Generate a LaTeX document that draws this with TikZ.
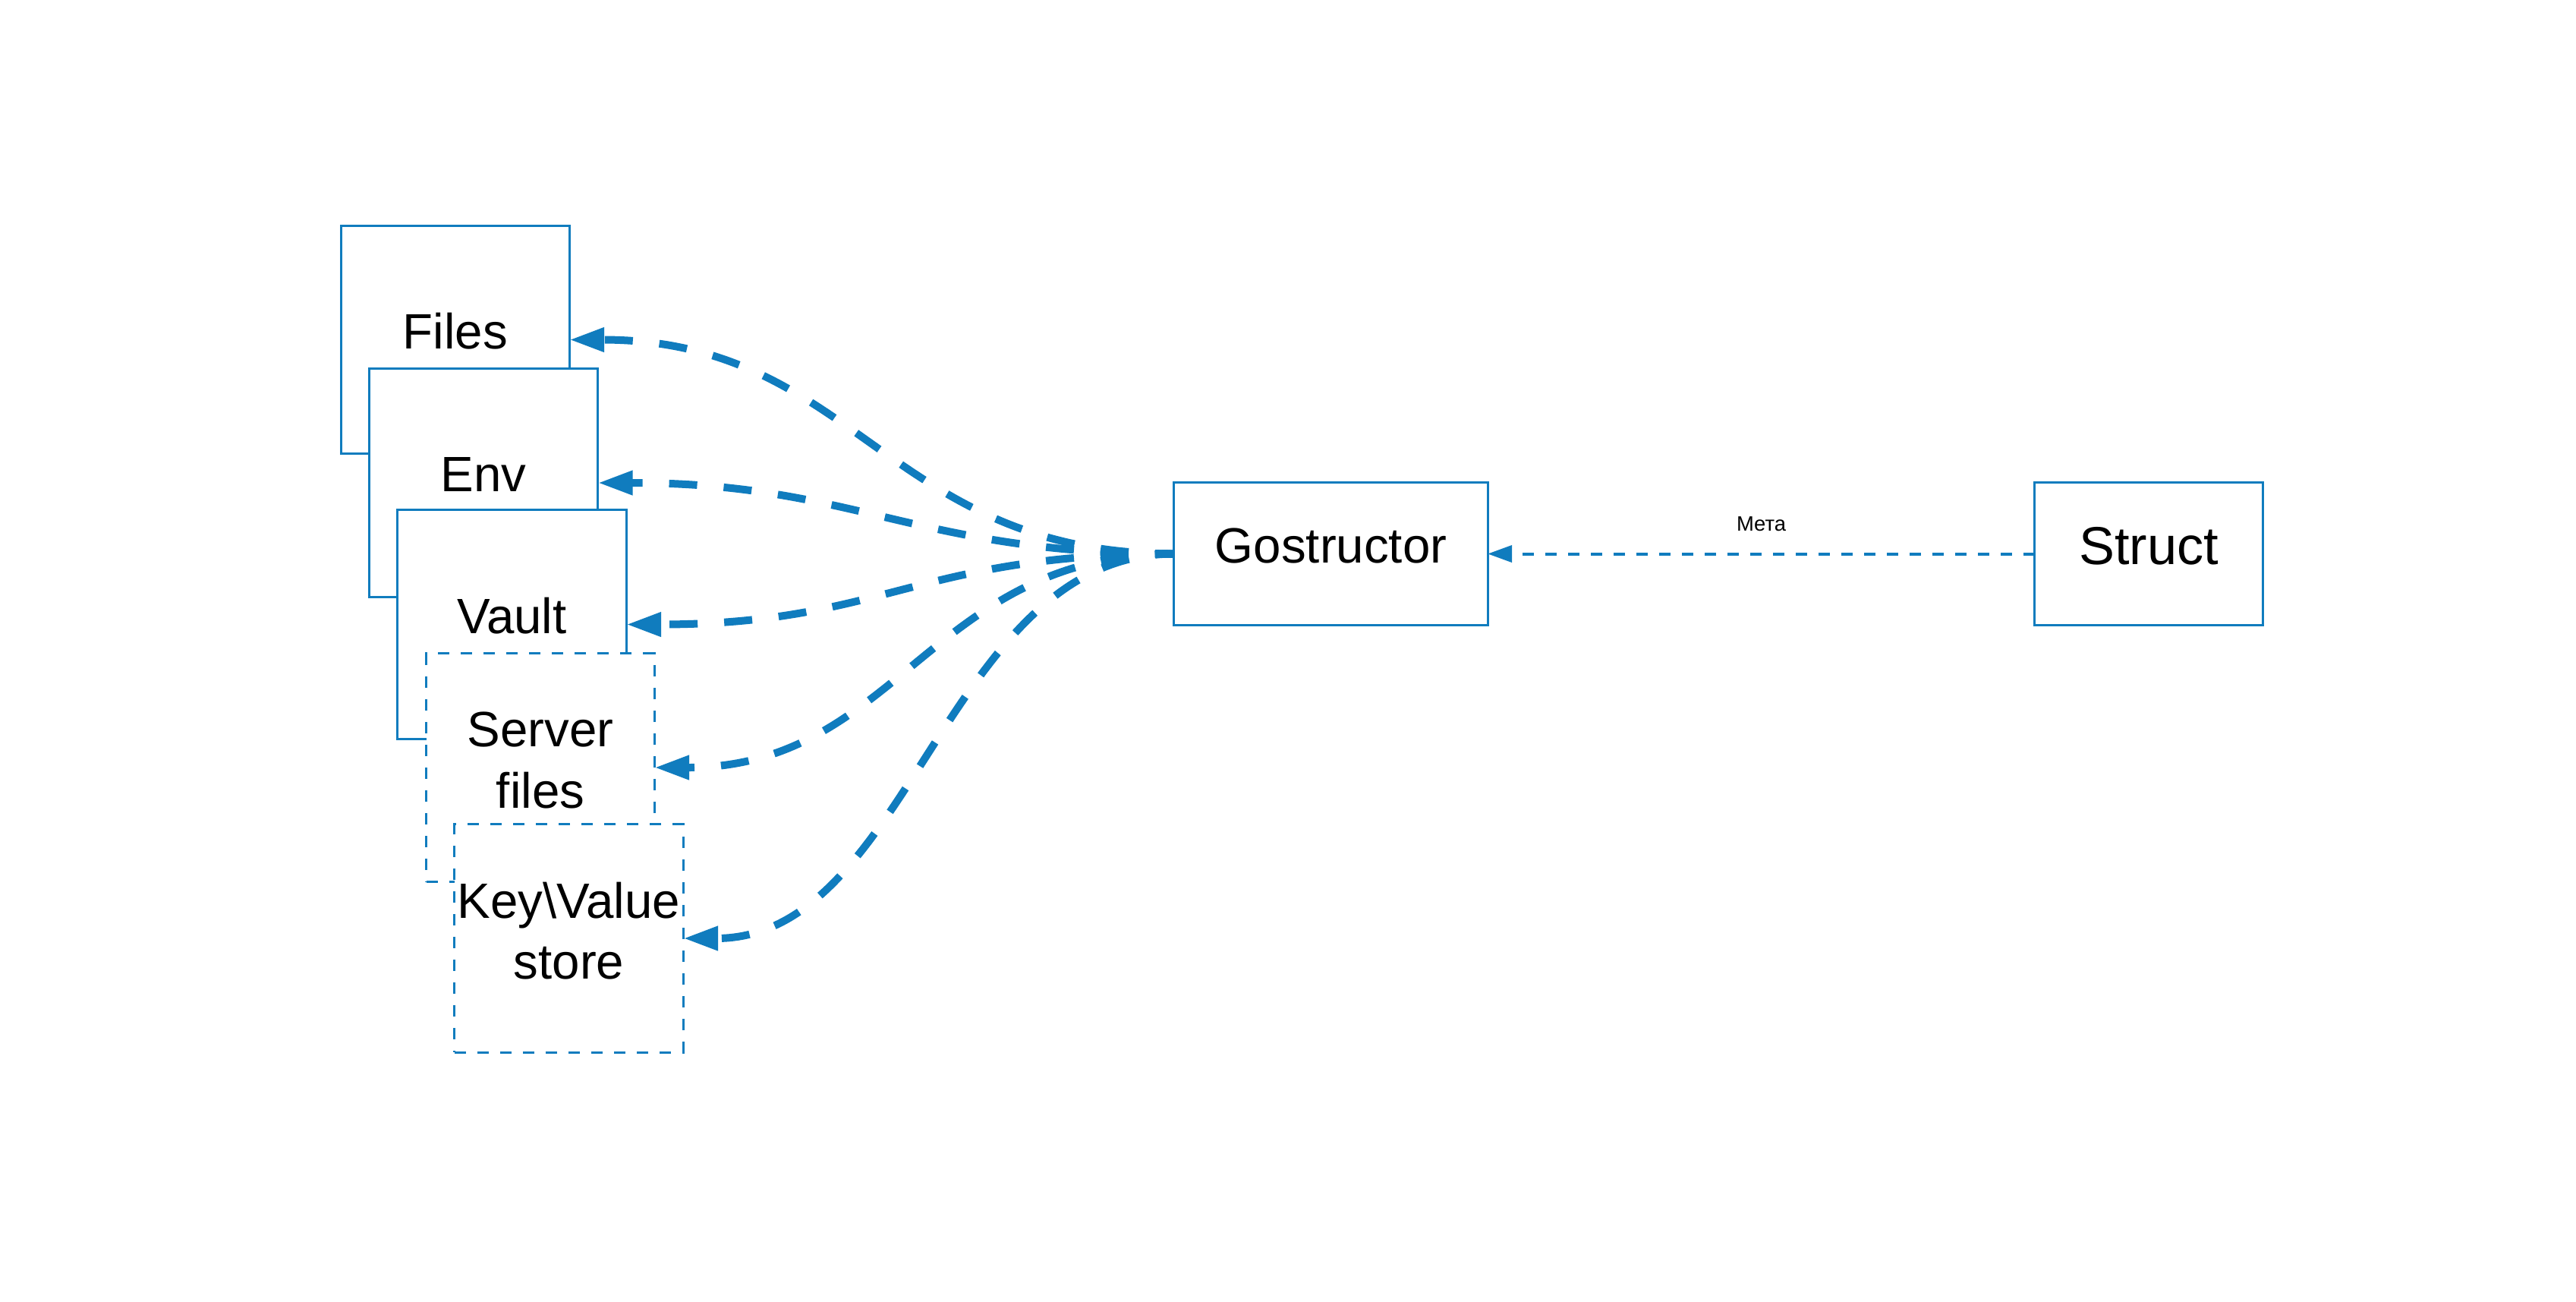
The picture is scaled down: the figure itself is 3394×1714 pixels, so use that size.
\documentclass[tikz,border=0pt]{standalone}
\usepackage{fontspec}
\setmainfont{Liberation Sans}
\usetikzlibrary{arrows.meta}
\definecolor{edgeblue}{RGB}{16,124,190}
\begin{document}
\begin{tikzpicture}[x=0.01cm,y=-0.01cm,
  box/.style={draw=edgeblue, line width=0.85pt, fill=white, minimum width=3cm, minimum height=3cm, inner sep=0pt, outer sep=0pt},
  dbox/.style={box, dash pattern=on 0.15cm off 0.15cm},
  lbl/.style={font=\fontsize{18.6}{22.9}\selectfont, align=center, inner sep=0pt, text=black},
  biglbl/.style={lbl, font=\fontsize{20}{24}\selectfont},
  metalbl/.style={font=\fontsize{7.8}{9}\selectfont, inner sep=0pt, text=black},
  conn/.style={draw=edgeblue, line width=0.1cm, dash pattern=on 0.37cm off 0.35cm, dash phase=0.12cm, -{Triangle[length=0.46cm,width=0.30cm]}},
  metaconn/.style={draw=edgeblue, line width=0.04cm, dash pattern=on 0.15cm off 0.15cm, -{Triangle[length=0.32cm,width=0.22cm]}}
]
\fill[white] (0,0) rectangle (3394,1714);
\useasboundingbox (0,0) rectangle (3394,1714);

\node[box] (files) at (600,447.5) {};
\node[lbl] (filesL) at ([yshift=0.115cm]files.center) {Files};
\node[box, minimum width=3.01cm] (env) at (637,636) {};
\node[lbl] (envL) at ([yshift=0.115cm]env.center) {Env};
\node[box, minimum width=3.01cm, minimum height=3.01cm] (vault) at (674.5,822.5) {};
\node[lbl] (vaultL) at ([yshift=0.115cm]vault.center) {Vault};
\node[dbox] (server) at (712,1011) {};
\node[lbl] (serverL) at ([yshift=0.095cm]server.center) {Server\\files};
\node[dbox, minimum width=3.01cm] (kv) at (749.5,1236) {};
\node[lbl] (kvL) at ([yshift=0.10cm]kv.center) {Key\textbackslash Value\\store};

\node[box, minimum width=4.13cm, minimum height=1.87cm] (gos) at (1753.5,729.5) {};
\node[lbl] (gosL) at ([yshift=0.11cm]gos.center) {Gostructor};
\node[box, minimum width=3cm, minimum height=1.87cm] (struct) at (2831,729.5) {};
\node[biglbl] (structL) at ([yshift=0.10cm]struct.center) {Struct};

\draw[conn] (gos.west) .. controls +(-377,0) and +(377,0) .. (files.east);
\draw[conn] (gos.west) .. controls +(-340,0) and +(340,0) .. (env.east);
\draw[conn] (gos.west) .. controls +(-340,0) and +(340,0) .. (vault.east);
\draw[conn] (gos.west) .. controls +(-320,0) and +(320,0) .. (server.east);
\draw[conn] (gos.west) .. controls +(-300,0) and +(300,0) .. (kv.east);

\draw[metaconn] (struct.west) -- node[metalbl, yshift=0.395cm] (metaL) {Мета} (gos.east);
\end{tikzpicture}
\end{document}
